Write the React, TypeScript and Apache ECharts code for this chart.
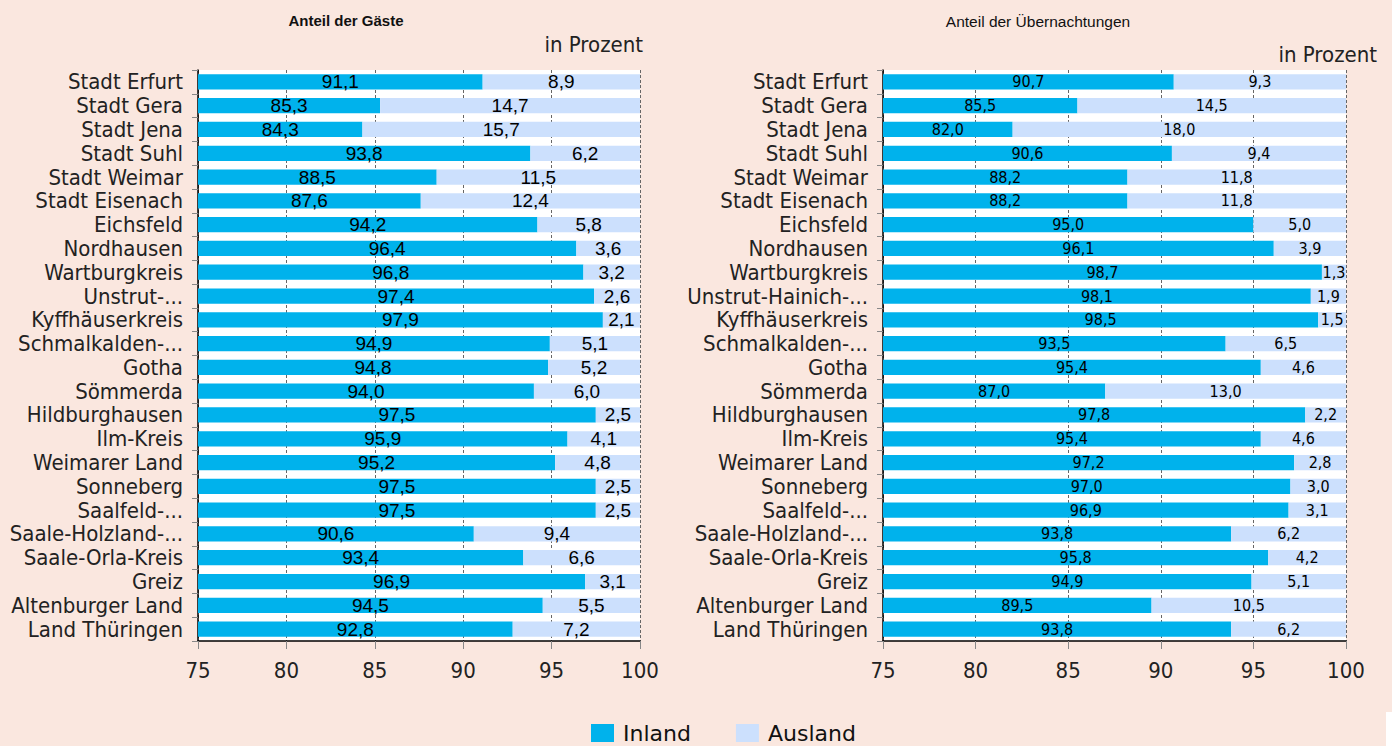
import React, { useEffect, useRef } from "react";
import * as echarts from "echarts";

const categoriesGaeste = [
  "Stadt Erfurt", "Stadt Gera", "Stadt Jena", "Stadt Suhl", "Stadt Weimar", "Stadt Eisenach",
  "Eichsfeld", "Nordhausen", "Wartburgkreis", "Unstrut-...", "Kyffhäuserkreis", "Schmalkalden-...",
  "Gotha", "Sömmerda", "Hildburghausen", "Ilm-Kreis", "Weimarer Land", "Sonneberg",
  "Saalfeld-...", "Saale-Holzland-...", "Saale-Orla-Kreis", "Greiz", "Altenburger Land", "Land Thüringen",
];
const categoriesUebernachtungen = [
  "Stadt Erfurt", "Stadt Gera", "Stadt Jena", "Stadt Suhl", "Stadt Weimar", "Stadt Eisenach",
  "Eichsfeld", "Nordhausen", "Wartburgkreis", "Unstrut-Hainich-...", "Kyffhäuserkreis", "Schmalkalden-...",
  "Gotha", "Sömmerda", "Hildburghausen", "Ilm-Kreis", "Weimarer Land", "Sonneberg",
  "Saalfeld-...", "Saale-Holzland-...", "Saale-Orla-Kreis", "Greiz", "Altenburger Land", "Land Thüringen",
];

const gaesteInland = [91.1, 85.3, 84.3, 93.8, 88.5, 87.6, 94.2, 96.4, 96.8, 97.4, 97.9, 94.9, 94.8, 94.0, 97.5, 95.9, 95.2, 97.5, 97.5, 90.6, 93.4, 96.9, 94.5, 92.8];
const gaesteAusland = [8.9, 14.7, 15.7, 6.2, 11.5, 12.4, 5.8, 3.6, 3.2, 2.6, 2.1, 5.1, 5.2, 6.0, 2.5, 4.1, 4.8, 2.5, 2.5, 9.4, 6.6, 3.1, 5.5, 7.2];
const uebInland = [90.7, 85.5, 82.0, 90.6, 88.2, 88.2, 95.0, 96.1, 98.7, 98.1, 98.5, 93.5, 95.4, 87.0, 97.8, 95.4, 97.2, 97.0, 96.9, 93.8, 95.8, 94.9, 89.5, 93.8];
const uebAusland = [9.3, 14.5, 18.0, 9.4, 11.8, 11.8, 5.0, 3.9, 1.3, 1.9, 1.5, 6.5, 4.6, 13.0, 2.2, 4.6, 2.8, 3.0, 3.1, 6.2, 4.2, 5.1, 10.5, 6.2];

const xTicks = { min: 75, max: 100, interval: 5 };

const COND = "'DejaVu Sans Condensed', 'Liberation Sans Narrow', sans-serif";
const ARIAL = "'Liberation Sans', Arial, sans-serif";
const INLAND = "#00b2ec";
const AUSLAND = "#cce0fd";
const BG = "#fae7df";

const fmt = (p: any) => Number(p.value).toFixed(1).replace(".", ",");

export default function App() {
  const ref = useRef<HTMLDivElement>(null);
  useEffect(() => {
    if (!ref.current) return;
    const chart = echarts.init(ref.current, undefined, { renderer: "svg" });

    const xAxis = (gridIndex: number) => ({
      type: "value",
      gridIndex,
      min: xTicks.min,
      max: xTicks.max,
      interval: xTicks.interval,
      axisLine: { show: true, lineStyle: { color: "#000", width: 1.5 } },
      axisTick: { show: true, length: 8, lineStyle: { color: "#888" } },
      axisLabel: { fontFamily: COND, fontSize: 22, color: "#222", margin: 18 },
      splitLine: { show: true, lineStyle: { color: "#666", type: [3, 2], width: 1 } },
    });
    const yAxis = (gridIndex: number, data: string[]) => ({
      type: "category",
      gridIndex,
      data,
      inverse: true,
      axisLine: { show: true, lineStyle: { color: "#000", width: 1.5 } },
      axisTick: { show: true, length: 6, lineStyle: { color: "#888" } },
      axisLabel: { fontFamily: COND, fontSize: 22, color: "#222", margin: 15, interval: 0 },
      splitLine: { show: false },
    });

    const series = (
      name: string, data: number[], color: string, xi: number, font: string, size: number,
    ) => ({
      name,
      type: "bar",
      xAxisIndex: xi,
      yAxisIndex: xi,
      stack: "s" + xi,
      data,
      barWidth: "64%",
      itemStyle: { color },
      label: {
        show: true,
        position: "inside",
        formatter: fmt,
        fontFamily: font,
        fontSize: size,
        color: "#000",
      },
      emphasis: { disabled: true },
    });

    chart.setOption({
      animation: false,
      backgroundColor: BG,
      title: [
        {
          text: "Anteil der Gäste",
          left: 341,
          top: 8,
          textAlign: "center",
          textStyle: { fontFamily: ARIAL, fontSize: 15, fontWeight: "bold", color: "#111" },
        },
        {
          text: "Anteil der Übernachtungen",
          left: 1033,
          top: 8,
          textAlign: "center",
          textStyle: { fontFamily: ARIAL, fontSize: 15.5, fontWeight: "normal", color: "#111" },
        },
        {
          text: "in Prozent",
          right: 1392 - 648,
          top: 28,
          textStyle: { fontFamily: COND, fontSize: 22, fontWeight: "normal", color: "#222" },
        },
        {
          text: "in Prozent",
          right: 1392 - 1382,
          top: 38,
          textStyle: { fontFamily: COND, fontSize: 22, fontWeight: "normal", color: "#222" },
        },
      ],
      legend: {
        left: 591,
        top: 721,
        padding: 0,
        itemWidth: 23,
        itemHeight: 18,
        itemGap: 45,
        icon: "rect",
        data: ["Inland", "Ausland"],
        textStyle: { fontFamily: "'DejaVu Sans', sans-serif", fontSize: 22, lineHeight: 24, color: "#111", padding: [0, 0, 0, 4] },
        selectedMode: false,
      },
      grid: [
        { left: 198, right: 1392 - 640, top: 70, bottom: 746 - 641, backgroundColor: "#fff", show: true, borderWidth: 0, outerBoundsMode: "none", containLabel: false },
        { left: 883, right: 1392 - 1346, top: 70, bottom: 746 - 641, backgroundColor: "#fff", show: true, borderWidth: 0, outerBoundsMode: "none", containLabel: false },
      ],
      xAxis: [xAxis(0), xAxis(1)],
      yAxis: [yAxis(0, categoriesGaeste), yAxis(1, categoriesUebernachtungen)],
      series: [
        series("Inland", gaesteInland, INLAND, 0, ARIAL, 19),
        series("Ausland", gaesteAusland, AUSLAND, 0, ARIAL, 19),
        series("Inland", uebInland, INLAND, 1, COND, 16),
        series("Ausland", uebAusland, AUSLAND, 1, COND, 16),
      ],
      graphic: [
        { type: "rect", left: 1386, top: 712, shape: { width: 6, height: 34 }, style: { fill: "#fff" } },
      ],
    });
    return () => chart.dispose();
  }, []);
  return (
    <div
      ref={ref}
      style={{ position: "absolute", left: 0, top: 0, width: 1392, height: 746 }}
    />
  );
}
